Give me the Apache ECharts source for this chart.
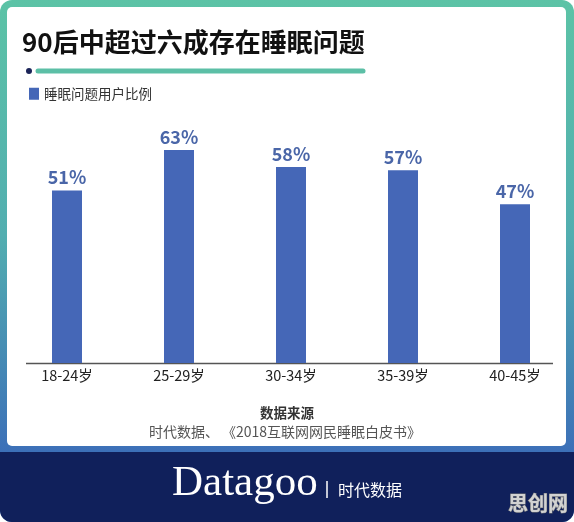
<!DOCTYPE html>
<html>
<head>
<meta charset="utf-8">
<script src="https://cdn.jsdelivr.net/npm/echarts@6/dist/echarts.min.js"></script>
<style>
  html, body { margin: 0; padding: 0; background: #fff; }
  #main { width: 574px; height: 522px; }
</style>
</head>
<body>
<div id="main"></div>
<script>
// 数据
const categories = ['18-24岁', '25-29岁', '30-34岁', '35-39岁', '40-45岁'];
const ratios = [51, 63, 58, 57, 47];
const seriesName = '睡眠问题用户比例';
const titleText = '90后中超过六成存在睡眠问题';
const sourceTitle = '数据来源';
const sourceText = '时代数据、 《2018互联网网民睡眠白皮书》';

const cjk = '"Noto Sans CJK SC", "Noto Sans", sans-serif';

let myChart = echarts.init(document.getElementById('main'));

let option = {
    animation: false,
    textStyle: { fontFamily: cjk },
    grid: { left: 11, right: 3, top: 25, bottom: 159 },
    legend: {
        data: [seriesName],
        left: 29, top: 87,
        padding: 0,
        icon: 'rect',
        itemWidth: 10, itemHeight: 12,
        textStyle: { fontSize: 13.5, color: '#333', fontFamily: cjk }
    },
    xAxis: {
        type: 'category',
        data: categories,
        axisLine: { show: false },
        axisTick: { show: false },
        axisLabel: { fontSize: 14.5, color: '#222', margin: 5, fontFamily: cjk }
    },
    yAxis: {
        type: 'value',
        min: 0, max: 100,
        show: false,
        splitLine: { show: false }
    },
    series: [{
        name: seriesName,
        type: 'bar',
        data: ratios,
        barWidth: 30,
        itemStyle: { color: '#4567b7' },
        label: {
            show: true,
            position: 'top',
            distance: 4,
            formatter: '{c}%',
            fontSize: 18,
            fontWeight: 'bold',
            color: '#4a66a8',
            fontFamily: cjk
        }
    }],
    graphic: [
        // 外框渐变
        {
            type: 'rect', z: -10, silent: true,
            shape: { x: 0, y: 0, width: 574, height: 522, r: 12 },
            style: {
                fill: new echarts.graphic.LinearGradient(0, 0, 0, 1, [
                    { offset: 0, color: '#5cc3a6' },
                    { offset: 0.45, color: '#52aeb0' },
                    { offset: 0.87, color: '#3c6fb8' },
                    { offset: 1, color: '#3c6fb8' }
                ])
            }
        },
        // 白色面板
        {
            type: 'rect', z: -9, silent: true,
            shape: { x: 7, y: 7, width: 559, height: 439, r: 5 },
            style: { fill: '#ffffff' }
        },
        // 底部深蓝条
        {
            type: 'rect', z: -8, silent: true,
            shape: { x: 0, y: 452, width: 574, height: 70, r: [0, 0, 12, 12] },
            style: { fill: '#10205b' }
        },
        // 标题
        {
            type: 'text', silent: true,
            x: 22, y: 42,
            style: { text: titleText, fontSize: 26, fontWeight: 'bold', fill: '#111', verticalAlign: 'middle', fontFamily: cjk }
        },
        {
            type: 'line', silent: true,
            shape: { x1: 38, y1: 71, x2: 363, y2: 71 },
            style: { stroke: '#5cbfa6', lineWidth: 5, lineCap: 'round' }
        },
        {
            type: 'circle', silent: true,
            shape: { cx: 29, cy: 71, r: 3 },
            style: { fill: '#1b2458' }
        },
        // x轴线
        {
            type: 'line', silent: true,
            shape: { x1: 26, y1: 363.5, x2: 553, y2: 363.5 },
            style: { stroke: '#555', lineWidth: 1.5 }
        },
        // 数据来源
        {
            type: 'text', silent: true,
            x: 287, y: 413,
            style: { text: sourceTitle, fontSize: 13.5, fontWeight: 'bold', fill: '#333', align: 'center', verticalAlign: 'middle', fontFamily: cjk }
        },
        {
            type: 'text', silent: true,
            x: 285, y: 432,
            style: { text: sourceText, fontSize: 14, fill: '#555', align: 'center', verticalAlign: 'middle', fontFamily: cjk }
        },
        // 底部 logo
        {
            type: 'text', silent: true,
            x: 172, y: 484,
            style: { text: 'Datagoo', fontSize: 43, fill: '#ffffff', verticalAlign: 'middle', fontFamily: '"Liberation Serif", "DejaVu Serif", serif' }
        },
        {
            type: 'line', silent: true,
            shape: { x1: 327, y1: 481, x2: 327, y2: 498 },
            style: { stroke: '#ffffff', lineWidth: 1.5 }
        },
        {
            type: 'text', silent: true,
            x: 338, y: 490,
            style: { text: '时代数据', fontSize: 16, fill: '#ffffff', verticalAlign: 'middle', fontFamily: cjk }
        },
        // 水印
        {
            type: 'text', silent: true,
            x: 538, y: 503,
            style: { text: '思创网', fontSize: 20, fontWeight: 'bold', fill: '#d2d2d2', stroke: '#7a7a7a', lineWidth: 1, align: 'center', verticalAlign: 'middle', fontFamily: cjk }
        }
    ]
};
myChart.setOption(option);
</script>
</body>
</html>
